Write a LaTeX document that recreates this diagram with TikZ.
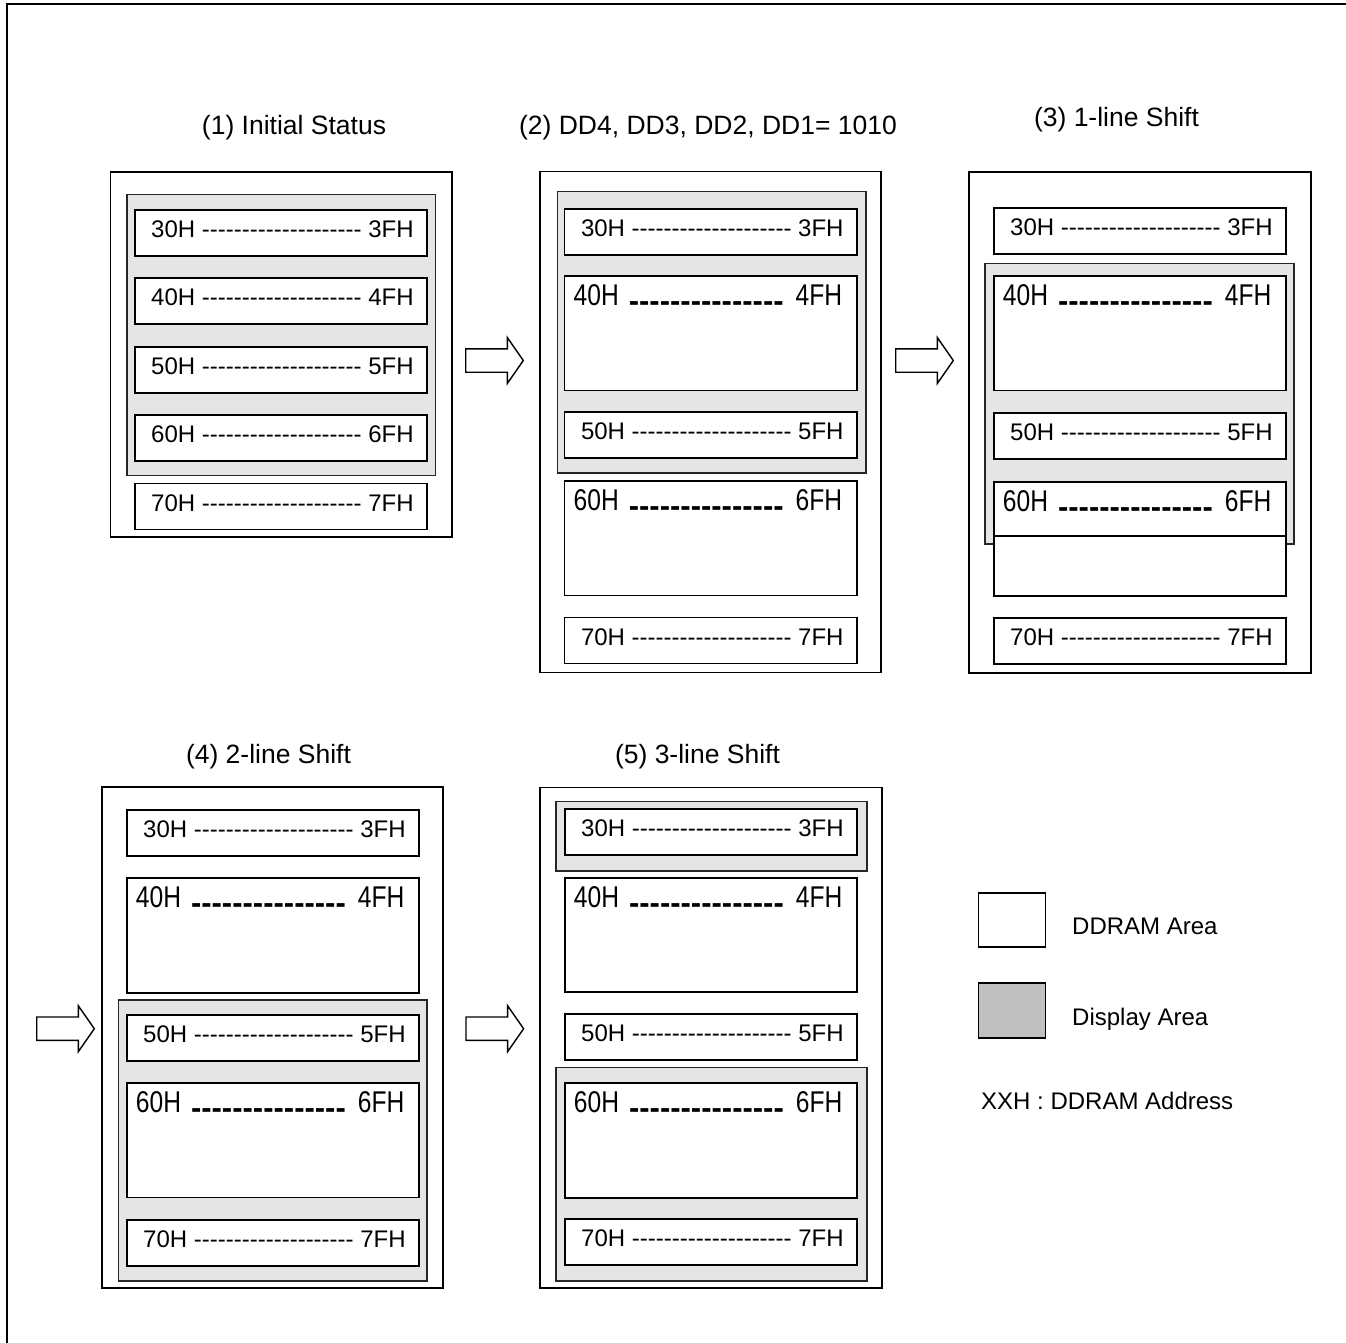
\documentclass[tikz,border=0pt]{standalone}
\usepackage{fontspec}
\usepackage{graphicx}
\newfontfamily\arial{Liberation Sans}
\usetikzlibrary{calc}
\definecolor{dispgray}{gray}{0.9}
\definecolor{leggray}{RGB}{192,192,192}
\newcommand\dashes[1]{\foreach \k in {1,...,#1}{\mbox{-}}}
\newcommand\nar[1]{\scalebox{0.82}[1]{#1}}
\newcommand\rect[6]{\node[#1, anchor=north west, inner sep=0pt, minimum width={(#5)-(#3)}, minimum height={(#6)-(#4)}] (#2) at (#3,#4) {};}
\newcommand\smallrow[5]{%
  \rect{rowbox}{#1}{#2}{#3}{#2+292.6}{#3+46}
  \node[smalltxt, anchor=base west] (#1t) at ($(#1.north west)+(17.3,28.6)$) {#4\ \dashes{20}\ #5};}
\newcommand\bigrow[5]{%
  \rect{rowbox}{#1}{#2}{#3}{#2+292.6}{#3+114.5}
  \node[bigtxt, anchor=base west] (#1t) at ($(#1.north west)+(10,30.3)$) {\nar{#4}\hspace{10pt}\raisebox{-6pt}{\bfseries\fontsize{31}{31}\selectfont\dashes{15}}\hspace{12pt}\nar{#5}};}
\newcommand\blockarrow[2]{%
  \draw[barrow] (#1,#2-11.7) -- (#1+41.6,#2-11.7) -- (#1+41.6,#2-23) -- (#1+57.6,#2) -- (#1+41.6,#2+23) -- (#1+41.6,#2+11.7) -- (#1,#2+11.7) -- cycle;}
\tikzset{
  panel/.style={draw, line width=1.8pt, fill=white},
  disp/.style={draw=black!85, line width=1.5pt, fill=dispgray},
  legswatch/.style={draw, line width=1.8pt, fill=leggray},
  rowbox/.style={draw, line width=1.8pt, fill=white},
  smalltxt/.style={font=\arial\fontsize{24}{28}\selectfont, inner sep=0pt},
  bigtxt/.style={font=\arial\fontsize{30}{34}\selectfont, inner sep=0pt},
  ttl/.style={font=\arial\fontsize{26.5}{30}\selectfont, inner sep=0pt, anchor=base},
  legtxt/.style={font=\arial\fontsize{24}{28}\selectfont, inner sep=0pt, anchor=base west},
  barrow/.style={draw, line width=1.4pt, fill=white, line join=miter},
}
\begin{document}
\begin{tikzpicture}[x=1pt, y=-1pt]
\useasboundingbox (0,0) rectangle (1346,1342);
\fill[white] (0,0) rectangle (1346,1342);
\draw[line width=2pt] (7,1360) -- (7,4) -- (1360,4);

% titles
\node[ttl] (t1) at (294,134.3) {(1) Initial Status};
\node[ttl] (t2) at (708,134.3) {(2) DD4, DD3, DD2, DD1= 1010};
\node[ttl] (t3) at (1116.5,126.3) {(3) 1-line Shift};
\node[ttl] (t4) at (268.5,763.3) {(4) 2-line Shift};
\node[ttl] (t5) at (697.5,763.3) {(5) 3-line Shift};

% panel 1
\rect{panel}{p1}{109.5}{171}{450.7}{536}
\rect{disp}{p1d}{126}{193.7}{434.7}{474.7}
\smallrow{p1a}{133.7}{208.7}{30H}{3FH}
\smallrow{p1b}{133.7}{277}{40H}{4FH}
\smallrow{p1c}{133.7}{345.7}{50H}{5FH}
\smallrow{p1d6}{133.7}{414.3}{60H}{6FH}
\smallrow{p1e}{133.7}{482.5}{70H}{7FH}

% panel 2
\rect{panel}{p2}{539.3}{170.5}{880}{671.5}
\rect{disp}{p2d}{556.7}{190.5}{865}{472}
\smallrow{p2a}{563.5}{208}{30H}{3FH}
\bigrow{p2b}{563.5}{275}{40H}{4FH}
\smallrow{p2c}{563.5}{411}{50H}{5FH}
\bigrow{p2d6}{563.5}{480}{60H}{6FH}
\smallrow{p2e}{563.5}{616.5}{70H}{7FH}

% panel 3
\rect{panel}{p3}{968.3}{171}{1309.7}{672.3}
\smallrow{p3a}{992.7}{206.7}{30H}{3FH}
\rect{disp}{p3d}{984.3}{262.7}{1293.3}{543.3}
\bigrow{p3b}{992.7}{275}{40H}{4FH}
\smallrow{p3c}{992.7}{412.3}{50H}{5FH}
\bigrow{p3d6}{992.7}{480.7}{60H}{6FH}
\rect{rowbox}{p3low}{992.7}{535}{1285.3}{595.2}
\smallrow{p3e}{992.7}{616.7}{70H}{7FH}

% panel 4
\rect{panel}{p4}{101}{785.7}{442.3}{1287.3}
\smallrow{p4a}{125.7}{809}{30H}{3FH}
\bigrow{p4b}{125.7}{877.3}{40H}{4FH}
\rect{disp}{p4d}{117.7}{999}{426}{1280}
\smallrow{p4c}{125.7}{1014}{50H}{5FH}
\bigrow{p4d6}{125.7}{1082}{60H}{6FH}
\smallrow{p4e}{125.7}{1219}{70H}{7FH}

% panel 5
\rect{panel}{p5}{539.2}{786.5}{881}{1287.3}
\rect{disp}{p5d1}{555.4}{800.7}{866}{870}
\smallrow{p5a}{563.7}{808.3}{30H}{3FH}
\bigrow{p5b}{563.7}{876.7}{40H}{4FH}
\smallrow{p5c}{563.7}{1013.3}{50H}{5FH}
\rect{disp}{p5d2}{555.4}{1066.7}{866}{1280}
\bigrow{p5d6}{563.7}{1082.3}{60H}{6FH}
\smallrow{p5e}{563.7}{1218.3}{70H}{7FH}

% arrows
\blockarrow{465.7}{360.5}
\blockarrow{895.7}{360.5}
\blockarrow{36.7}{1028.7}
\blockarrow{466}{1028.7}

% legend
\rect{panel}{lg1}{977.6}{891.7}{1044.5}{945.7}
\rect{legswatch}{lg2}{977.6}{982.3}{1044.5}{1037.3}
\node[legtxt] (lg1t) at (1072,934) {DDRAM Area};
\node[legtxt] (lg2t) at (1072,1025) {Display Area};
\node[legtxt] (lg3t) at (981,1109.3) {XXH : DDRAM Address};
\end{tikzpicture}
\end{document}
